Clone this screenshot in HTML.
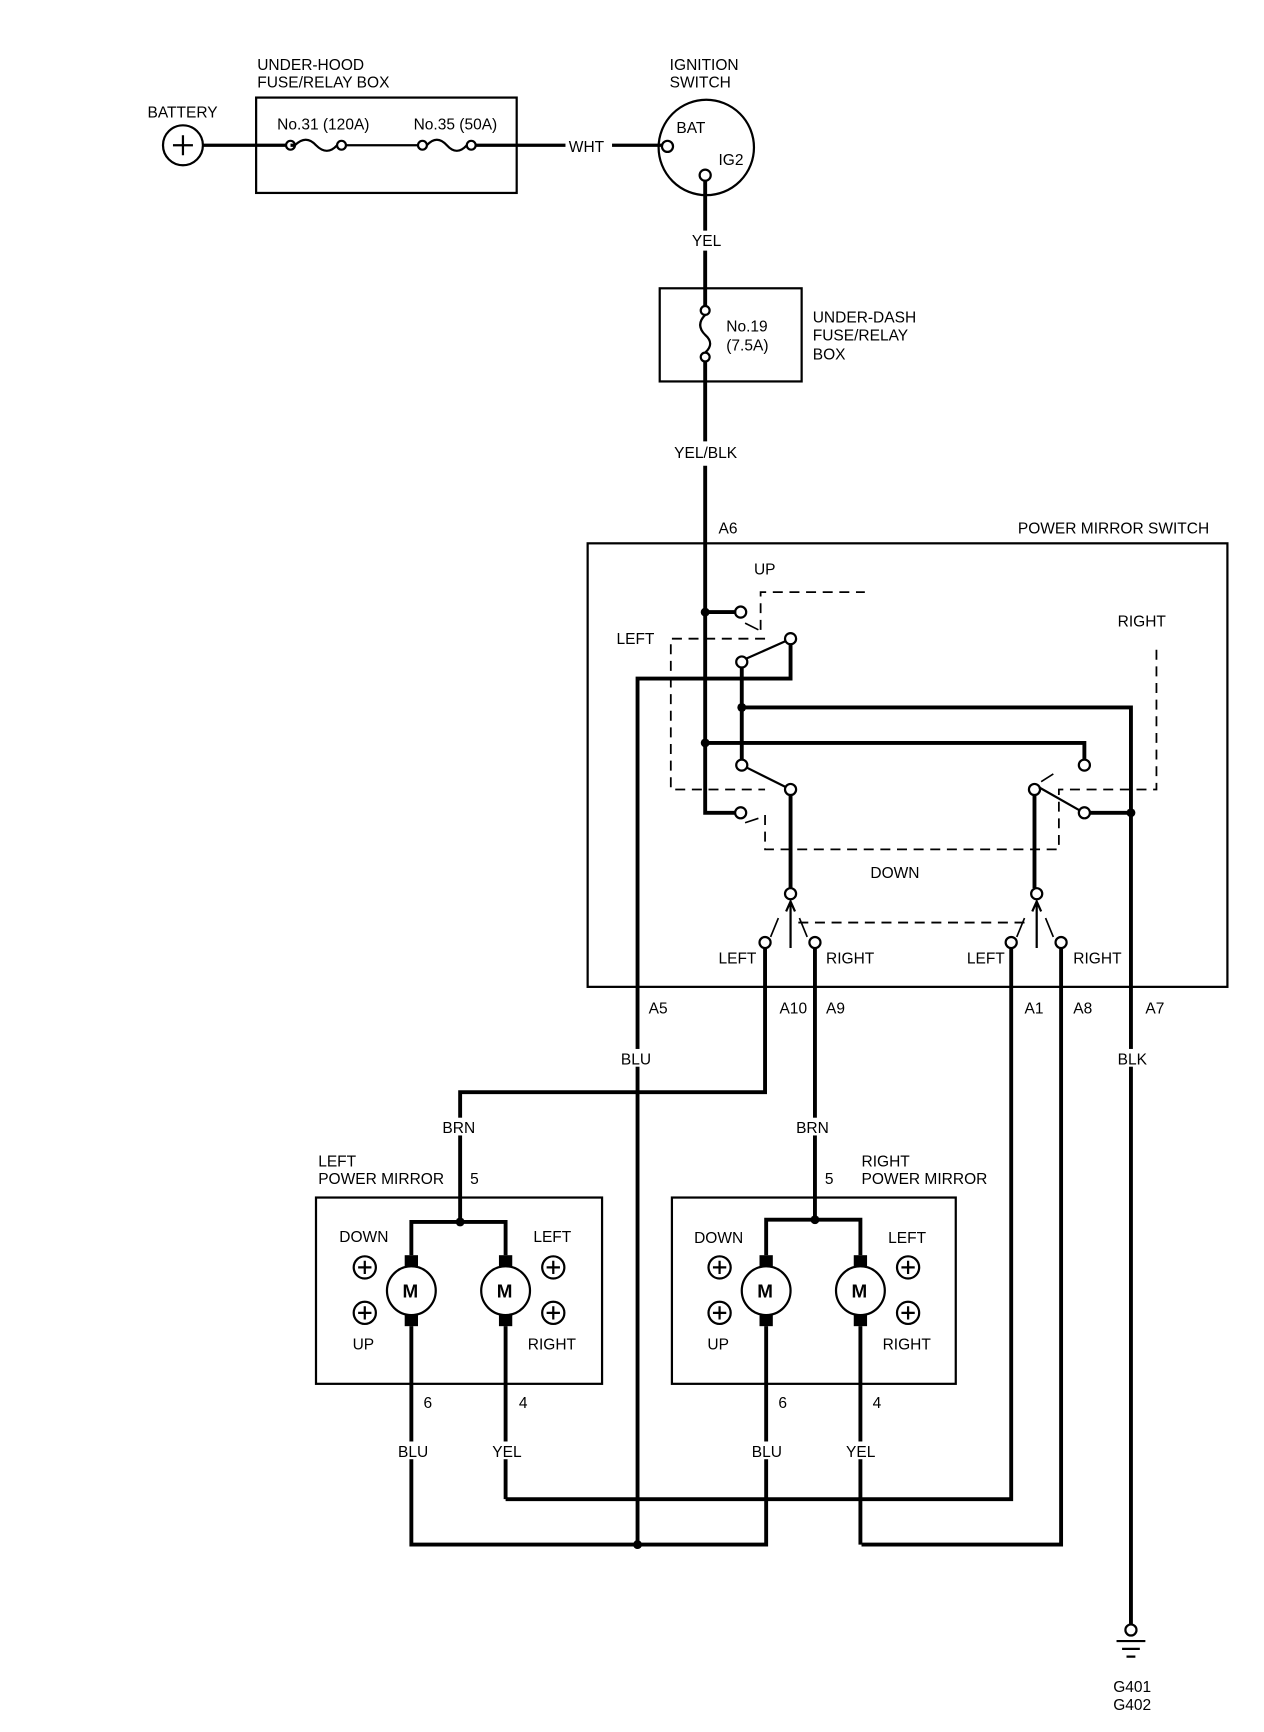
<!DOCTYPE html>
<html><head><meta charset="utf-8"><style>
html,body{margin:0;padding:0;background:#fff;}
svg{display:block}
text{font-family:"Liberation Sans",sans-serif;font-size:14px;fill:#000}
</style></head><body>
<svg width="1264" height="1732" viewBox="0 0 1140 1562" preserveAspectRatio="none" xmlns="http://www.w3.org/2000/svg">
<g fill="none" stroke="#000">
<!-- top -->
<circle cx="165" cy="131" r="18" stroke-width="2"/>
<path d="M156 131h18M165 122v18" stroke-width="2"/>
<path d="M183 131H258M266 131h-4" stroke-width="3"/>
<rect x="231" y="88" width="235" height="86" stroke-width="2"/>
<circle cx="262" cy="131" r="4" stroke-width="2"/>
<path d="M266 131q10 -10 19 0q10 10 19 0" stroke-width="2"/>
<circle cx="308" cy="131" r="4" stroke-width="2"/>
<path d="M312 131H377" stroke-width="2"/>
<circle cx="381" cy="131" r="4" stroke-width="2"/>
<path d="M385 131q9 -10 18 0q9 10 18 0" stroke-width="2"/>
<circle cx="425" cy="131" r="4" stroke-width="2"/>
<path d="M429 131H510M552 131H597" stroke-width="3"/>
<circle cx="637" cy="133" r="43" stroke-width="2"/>
<circle cx="602" cy="132" r="5" stroke-width="2"/>
<circle cx="636" cy="158" r="5" stroke-width="2"/>
<path d="M636 163V208M636 226V276" stroke-width="3.5"/>
<rect x="595" y="260" width="128" height="84" stroke-width="2"/>
<circle cx="636" cy="280" r="4" stroke-width="2"/>
<path d="M636 284q-9 9 0 18q9 8 0 16" stroke-width="2"/>
<circle cx="636" cy="322" r="4" stroke-width="2"/>
<path d="M636 326V398M636 420V733H663" stroke-width="3.5"/>
<!-- switch box -->
<rect x="530" y="490" width="577" height="400" stroke-width="2"/>
<path d="M636 552H664M713 581V612H575V1393M669 602V686M669 638H1020V1465M636 670H978V686M713 717V801M933 717V801M983 733H1020" stroke-width="3.5"/>
<path d="M673 594L709 578M673 692L709 710M937 710L974 731" stroke-width="2"/>
<g stroke-width="2">
<circle cx="668" cy="552" r="5"/><circle cx="713" cy="576" r="5"/><circle cx="669" cy="597" r="5"/>
<circle cx="669" cy="690" r="5"/><circle cx="713" cy="712" r="5"/><circle cx="668" cy="733" r="5"/>
<circle cx="978" cy="690" r="5"/><circle cx="933" cy="712" r="5"/><circle cx="978" cy="733" r="5"/>
<circle cx="713" cy="806" r="5"/><circle cx="690" cy="850" r="5"/><circle cx="735" cy="850" r="5"/>
<circle cx="935" cy="806" r="5"/><circle cx="912" cy="850" r="5"/><circle cx="957" cy="850" r="5"/>
</g>
<g stroke-width="1.6" stroke-dasharray="9,6">
<path d="M686 568V534H780"/>
<path d="M690 576H605V712H690"/>
<path d="M690 735V766H955V712H1043V580"/>
<path d="M720 832H928"/>
</g>
<path d="M713 855V815M709 822L713 813L717 822M935 855V815M931 822L935 813L939 822" stroke-width="2"/>
<path d="M695 845L702 828M728 845L721 828M917 845L924 828M950 845L943 828M672 562L684 568M939 705L950 698M672 742L684 738" stroke-width="1.5"/>
<!-- lower wiring -->
<path d="M690 855V985H415V1102M735 855V1102M912 855V1352H456M957 855V1393H777" stroke-width="3.5"/>
<path d="M371 1196V1393H691V1196M456 1196V1352M776 1196V1393" stroke-width="3.5"/>
<!-- mirrors -->
<rect x="285" y="1080" width="258" height="168" stroke-width="2"/>
<rect x="606" y="1080" width="256" height="168" stroke-width="2"/>
<path d="M371 1132V1102H456V1132M691 1132V1100H776V1132" stroke-width="3.5"/>
<g stroke-width="2">
<circle cx="371" cy="1164" r="22"/><circle cx="456" cy="1164" r="22"/>
<circle cx="691" cy="1164" r="22"/><circle cx="776" cy="1164" r="22"/>
<circle cx="329" cy="1143" r="10"/><circle cx="329" cy="1184" r="10"/><circle cx="499" cy="1143" r="10"/><circle cx="499" cy="1184" r="10"/>
<circle cx="649" cy="1143" r="10"/><circle cx="649" cy="1184" r="10"/><circle cx="819" cy="1143" r="10"/><circle cx="819" cy="1184" r="10"/>
<path d="M323 1143h12M329 1137v12M323 1184h12M329 1178v12M493 1143h12M499 1137v12M493 1184h12M499 1178v12M643 1143h12M649 1137v12M643 1184h12M649 1178v12M813 1143h12M819 1137v12M813 1184h12M819 1178v12"/>
</g>
<!-- ground -->
<circle cx="1020" cy="1470" r="5" stroke-width="2"/>
<path d="M1007 1480h26M1012 1487h16M1016 1494h8" stroke-width="2"/>
</g>
<g fill="#000">
<rect x="365" y="1132" width="12" height="10"/><rect x="365" y="1186" width="12" height="10"/>
<rect x="450" y="1132" width="12" height="10"/><rect x="450" y="1186" width="12" height="10"/>
<rect x="685" y="1132" width="12" height="10"/><rect x="685" y="1186" width="12" height="10"/>
<rect x="770" y="1132" width="12" height="10"/><rect x="770" y="1186" width="12" height="10"/>
<circle cx="636" cy="552" r="4"/><circle cx="669" cy="638" r="4"/><circle cx="636" cy="670" r="4"/>
<circle cx="1020" cy="733" r="4"/><circle cx="415" cy="1102" r="4"/><circle cx="735" cy="1100" r="4"/><circle cx="575" cy="1393" r="4"/>
</g>
<g fill="#fff">
<rect x="362" y="1300" width="20" height="16"/><rect x="446" y="1300" width="20" height="16"/>
<rect x="681" y="1300" width="20" height="16"/><rect x="766" y="1300" width="20" height="16"/>
<rect x="562" y="946" width="24" height="16"/><rect x="1008" y="946" width="24" height="16"/>
<rect x="400" y="1008" width="30" height="16"/><rect x="719" y="1008" width="30" height="16"/>
</g>
<text x="133" y="106">BATTERY</text>
<text x="232" y="63">UNDER-HOOD</text><text x="232" y="79">FUSE/RELAY BOX</text>
<text x="250" y="117">No.31 (120A)</text><text x="373" y="117">No.35 (50A)</text>
<text x="513" y="137">WHT</text>
<text x="604" y="63">IGNITION</text><text x="604" y="79">SWITCH</text>
<text x="610" y="120">BAT</text><text x="648" y="149">IG2</text>
<text x="624" y="222">YEL</text>
<text x="655" y="299">No.19</text><text x="655" y="316">(7.5A)</text>
<text x="733" y="291">UNDER-DASH</text><text x="733" y="307">FUSE/RELAY</text><text x="733" y="324">BOX</text>
<text x="608" y="413">YEL/BLK</text>
<text x="648" y="481">A6</text>
<text x="918" y="481">POWER MIRROR SWITCH</text>
<text x="680" y="518">UP</text><text x="556" y="581">LEFT</text><text x="1008" y="565">RIGHT</text>
<text x="785" y="792">DOWN</text>
<text x="648" y="869">LEFT</text><text x="745" y="869">RIGHT</text><text x="872" y="869">LEFT</text><text x="968" y="869">RIGHT</text>
<text x="585" y="914">A5</text><text x="703" y="914">A10</text><text x="745" y="914">A9</text>
<text x="924" y="914">A1</text><text x="968" y="914">A8</text><text x="1033" y="914">A7</text>
<text x="560" y="960">BLU</text><text x="1008" y="960">BLK</text>
<text x="399" y="1022">BRN</text><text x="718" y="1022">BRN</text>
<text x="287" y="1052">LEFT</text><text x="287" y="1068">POWER MIRROR</text><text x="424" y="1068">5</text>
<text x="777" y="1052">RIGHT</text><text x="777" y="1068">POWER MIRROR</text><text x="744" y="1068">5</text>
<text x="306" y="1120">DOWN</text><text x="318" y="1217">UP</text><text x="481" y="1120">LEFT</text><text x="476" y="1217">RIGHT</text>
<text x="626" y="1121">DOWN</text><text x="638" y="1217">UP</text><text x="801" y="1121">LEFT</text><text x="796" y="1217">RIGHT</text>
<g font-weight="bold"><text x="363" y="1170" style="font-size:17px">M</text><text x="448" y="1170" style="font-size:17px">M</text>
<text x="683" y="1170" style="font-size:17px">M</text><text x="768" y="1170" style="font-size:17px">M</text></g>
<text x="382" y="1270">6</text><text x="468" y="1270">4</text><text x="702" y="1270">6</text><text x="787" y="1270">4</text>
<text x="359" y="1314">BLU</text><text x="444" y="1314">YEL</text><text x="678" y="1314">BLU</text><text x="763" y="1314">YEL</text>
<text x="1004" y="1526">G401</text><text x="1004" y="1542">G402</text>
</svg>
</body></html>
